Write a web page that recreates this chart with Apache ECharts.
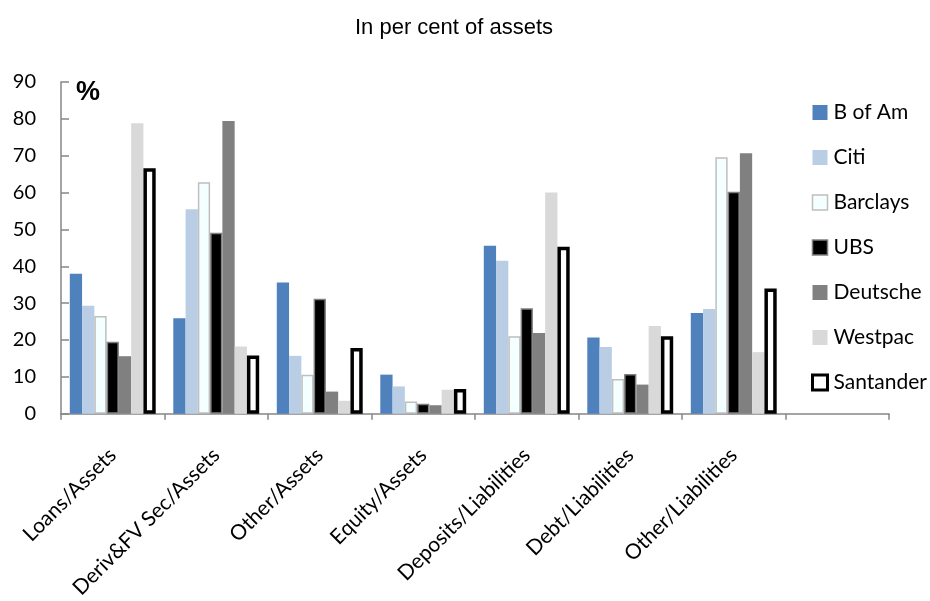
<!DOCTYPE html>
<html>
<head>
<meta charset="utf-8">
<script src="https://cdn.jsdelivr.net/npm/echarts@6/dist/echarts.min.js"></script>
<style>
html,body{margin:0;padding:0;background:#fff;}
#chart{width:930px;height:601px;}
</style>
</head>
<body>
<div id="chart"></div>
<script>
var categories = ['Loans/Assets', 'Deriv&FV Sec/Assets', 'Other/Assets', 'Equity/Assets',
    'Deposits/Liabilities', 'Debt/Liabilities', 'Other/Liabilities', ''];
var bofAm     = [38.0, 25.9, 35.6, 10.6, 45.6, 20.7, 27.3];
var citi      = [29.3, 55.5, 15.7, 7.4, 41.5, 18.1, 28.4];
var barclays  = [26.5, 62.8, 10.6, 3.3, 21.0, 9.4, 69.6];
var ubs       = [19.5, 49.1, 31.2, 2.7, 28.6, 10.8, 60.2];
var deutsche  = [15.6, 79.4, 6.0, 2.3, 21.9, 7.9, 70.7];
var westpac   = [78.8, 18.2, 3.5, 6.5, 60.0, 23.8, 16.7];
var santander = [66.6, 15.8, 17.8, 6.7, 45.3, 21.0, 34.0];
var yTicks = [0, 10, 20, 30, 40, 50, 60, 70, 80, 90];

var myChart = echarts.init(document.getElementById('chart'));

// bar styles per bank
var styles = [
    {name: 'B of Am', data: bofAm, color: '#4f81bd', borderColor: '#4f81bd', borderWidth: 0},
    {name: 'Citi', data: citi, color: '#b9cde5', borderColor: '#b9cde5', borderWidth: 0},
    {name: 'Barclays', data: barclays, color: '#f4ffff', borderColor: '#bfbfbf', borderWidth: 1.5},
    {name: 'UBS', data: ubs, color: '#000000', borderColor: '#7f7f7f', borderWidth: 1.5},
    {name: 'Deutsche', data: deutsche, color: '#808080', borderColor: '#808080', borderWidth: 0},
    {name: 'Westpac', data: westpac, color: '#d9d9d9', borderColor: '#d9d9d9', borderWidth: 0},
    {name: 'Santander', data: santander, color: '#ffffff', borderColor: '#000000', borderWidth: 3.5}
];

var series = [];
var legendData = [];
for (var i = 0; i < styles.length; i++) {
    var s = styles[i];
    series.push({
        name: s.name,
        type: 'bar',
        data: s.data,
        barGap: '0%',
        barCategoryGap: '17%',
        itemStyle: {color: s.color, borderColor: s.borderColor, borderWidth: s.borderWidth},
        emphasis: {disabled: true}
    });
    legendData.push({
        name: s.name,
        itemStyle: {color: s.color, borderColor: s.borderColor, borderWidth: s.name == 'Santander' ? 3 : (s.borderWidth ? 1.5 : 0)}
    });
}

var option = {
    animation: false,
    backgroundColor: '#ffffff',
    title: {
        text: 'In per cent of assets',
        left: 449,
        top: 12,
        textAlign: 'center',
        textStyle: {fontFamily: 'Liberation Sans', fontSize: 22, fontWeight: 'normal', color: '#000'}
    },
    graphic: [{
        type: 'text',
        left: 76,
        top: 79,
        style: {text: '%', fontFamily: 'Liberation Sans', fontSize: 27, fontWeight: 'bold', fill: '#000'}
    }],
    legend: {
        orient: 'vertical',
        left: 806,
        top: 97,
        itemWidth: 15,
        itemHeight: 15,
        itemGap: 24,
        icon: 'rect',
        data: legendData,
        textStyle: {fontFamily: 'Lato', fontSize: 21, lineHeight: 20, color: '#000', padding: [0, 0, 0, 1]}
    },
    grid: {left: 61, right: 41, top: 82, bottom: 187, containLabel: false},
    xAxis: {
        type: 'category',
        data: categories,
        axisLine: {lineStyle: {color: '#868686', width: 1.5}},
        axisTick: {show: true, length: 6, lineStyle: {color: '#868686', width: 1.5}},
        axisLabel: {rotate: 45, margin: 38, fontFamily: 'Lato', fontSize: 21, color: '#000', interval: 0}
    },
    yAxis: {
        type: 'value',
        min: 0,
        max: 90,
        interval: 10,
        splitLine: {show: false},
        axisLine: {show: true, lineStyle: {color: '#868686', width: 1.5}},
        axisTick: {show: true, inside: true, length: 8, lineStyle: {color: '#868686', width: 1.5}},
        axisLabel: {
            margin: 25,
            fontFamily: 'Lato', fontSize: 20, color: '#000',
            formatter: function (v) { return yTicks.indexOf(v) >= 0 ? String(v) : ''; }
        }
    },
    series: series
};

myChart.setOption(option);
</script>
</body>
</html>
